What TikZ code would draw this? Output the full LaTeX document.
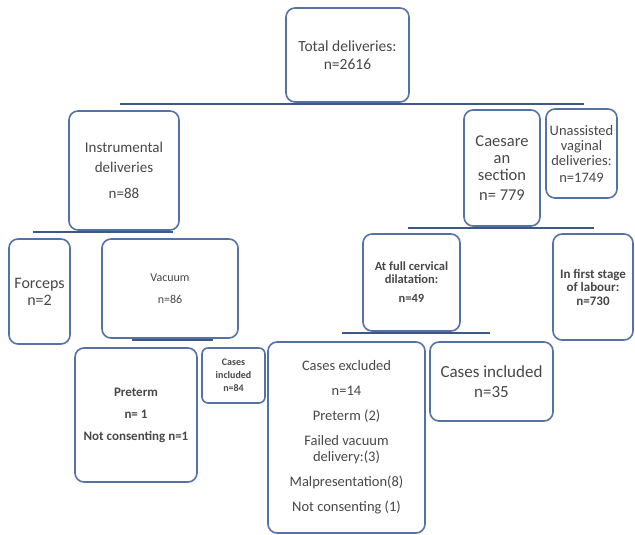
\documentclass[tikz,border=0pt]{standalone}
\usepackage{fontspec}
\setmainfont{Carlito}
\usepackage{tikz}
\usetikzlibrary{positioning}
\definecolor{boxedge}{RGB}{84,114,165}
\definecolor{barblue}{RGB}{62,88,134}
\definecolor{inkgray}{RGB}{72,72,72}
\tikzset{
  box/.style={rectangle, rounded corners=9pt, draw=boxedge, line width=1.6pt,
              fill=white, align=center, text=inkgray, inner sep=2pt},
  bar/.style={draw=barblue, line width=2.6pt}
}

\begin{document}
\begin{tikzpicture}[x=1pt, y=-1pt]
  \useasboundingbox (0,0) rectangle (635,535);

  % top level
  \node[box, minimum width=123pt, minimum height=94pt, font=\fontsize{15.5}{18}\selectfont]
    (total) at (347.5,55) {Total deliveries:\\n=2616};

  % second level
  \node[box, minimum width=110pt, minimum height=119pt, font=\fontsize{15}{20}\selectfont]
    (instr) at (124,170.5) {Instrumental\\deliveries\\[6pt]n=88};
  \node[box, minimum width=76pt, minimum height=116pt, font=\fontsize{16.5}{17}\selectfont]
    (caes) at (502,168) {Caesare\\an\\section\\[3pt]n= 779};
  \node[box, minimum width=71pt, minimum height=89pt, font=\fontsize{14.5}{15}\selectfont]
    (unass) at (581.5,153.5) {Unassisted\\vaginal\\deliveries:\\[2pt]n=1749};

  % third level
  \node[box, minimum width=61pt, minimum height=105pt, font=\fontsize{16}{17}\selectfont]
    (forceps) at (39.5,291.5) {Forceps\\n=2};
  \node[box, minimum width=136pt, minimum height=99pt, font=\fontsize{12}{22}\selectfont]
    (vacuum) at (170,288.5) {Vacuum\\n=86};
  \node[box, minimum width=97pt, minimum height=97pt, font=\fontsize{12.5}{13}\selectfont\bfseries]
    (cerv) at (411.5,282.5) {At full cervical\\dilatation:\\[6pt]n=49};
  \node[box, minimum width=80pt, minimum height=106pt, font=\fontsize{13}{13.5}\selectfont\bfseries]
    (first) at (593,287) {In first stage\\of labour:\\n=730};

  % fourth level
  \node[box, minimum width=122pt, minimum height=134pt, font=\fontsize{13}{22}\selectfont\bfseries]
    (preterm) at (136,415) {Preterm\\n= 1\\Not consenting n=1};
  \node[box, minimum width=63pt, minimum height=55pt, rounded corners=6pt,
        font=\fontsize{10}{13}\selectfont\bfseries]
    (inclsmall) at (233.5,375.5) {Cases\\included\\n=84};
  \node[box, minimum width=157pt, minimum height=191pt, font=\fontsize{14.5}{16}\selectfont]
    (excl) at (346.5,437.5) {Cases excluded\\[9pt]n=14\\[9pt]Preterm (2)\\[9pt]Failed vacuum\\delivery:(3)\\[9pt]Malpresentation(8)\\[9pt]Not consenting (1)};
  \node[box, minimum width=123pt, minimum height=79pt, font=\fontsize{17}{20}\selectfont]
    (inclbig) at (491.5,381.5) {Cases included\\n=35};

  % bars under each parent
  \coordinate (b0l) at (120,104);   \coordinate (b0r) at (584,104);
  \coordinate (b1l) at (33,232);    \coordinate (b1r) at (173,232);
  \coordinate (b2l) at (132,340);   \coordinate (b2r) at (213,340);
  \coordinate (b3l) at (408,228);   \coordinate (b3r) at (594,228);
  \coordinate (b4l) at (342,333);   \coordinate (b4r) at (490,333);

  \draw[bar] (b0l) -- (b0r);
  \draw[bar] (b1l) -- (b1r);
  \draw[bar] (b2l) -- (b2r);
  \draw[bar] (b3l) -- (b3r);
  \draw[bar] (b4l) -- (b4r);
\end{tikzpicture}
\end{document}
